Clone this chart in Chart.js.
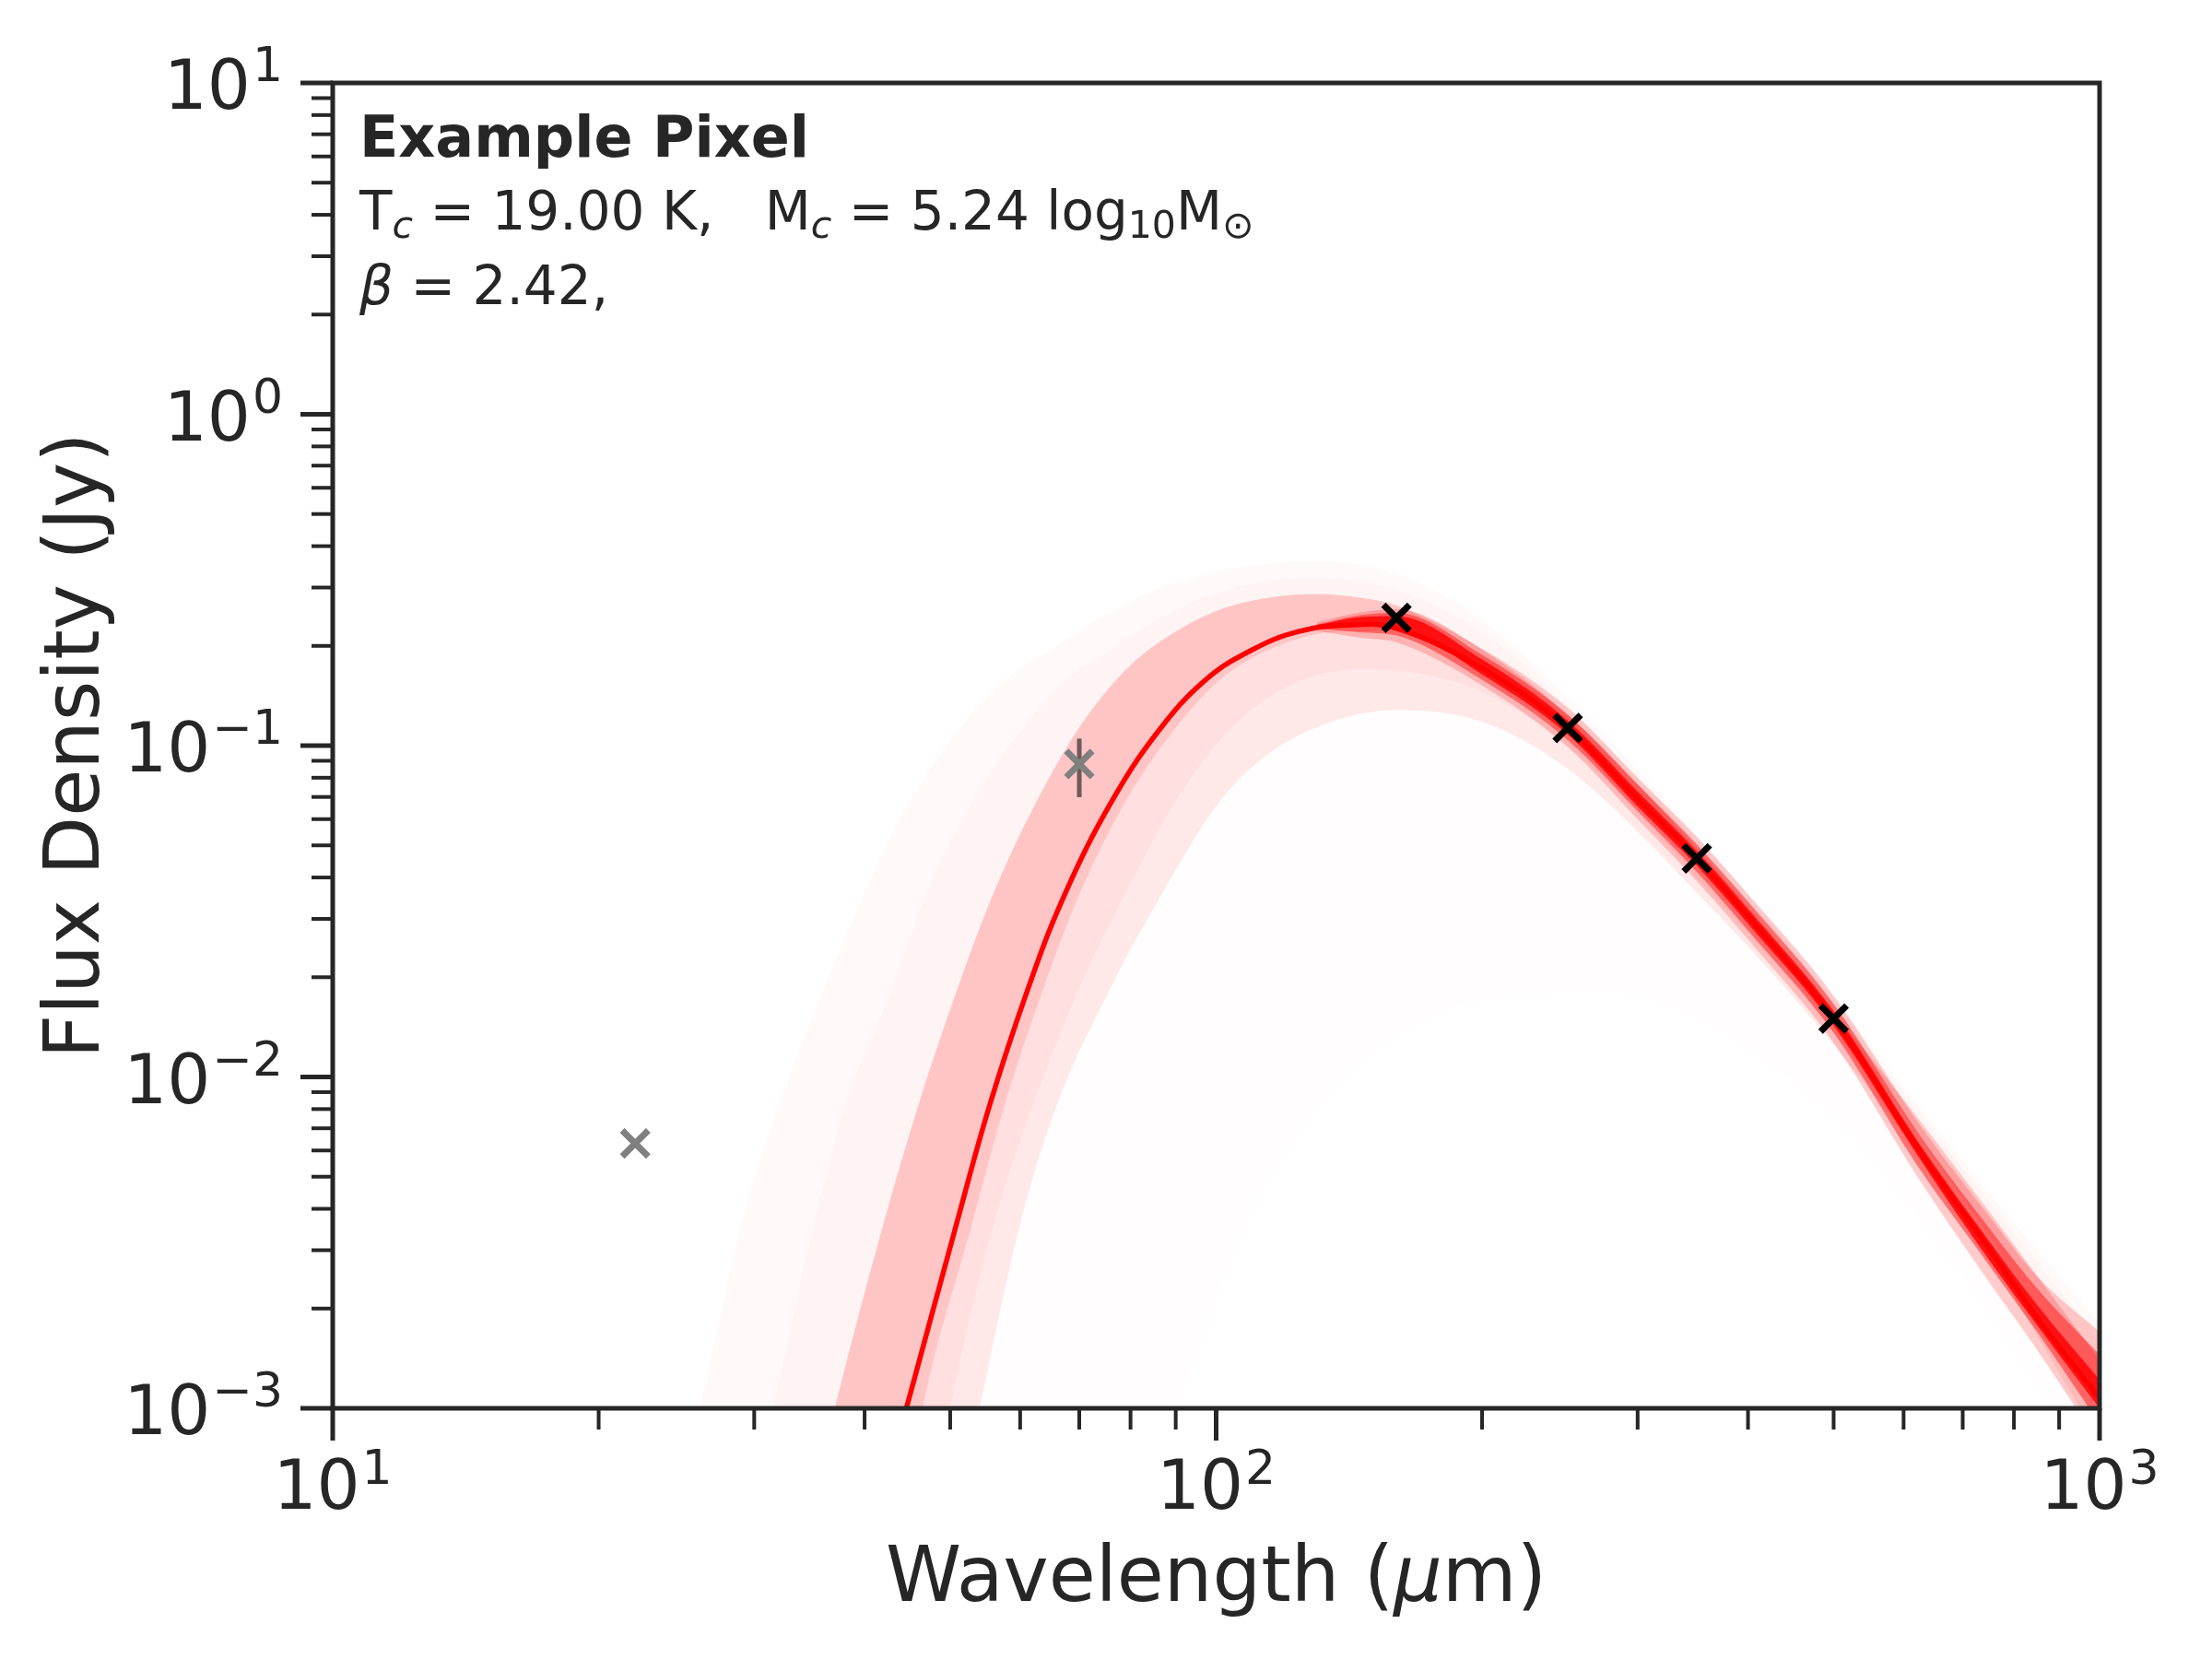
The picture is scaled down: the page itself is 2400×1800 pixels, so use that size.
<!DOCTYPE html>
<html>
<head>
<meta charset="utf-8">
<script src="https://cdn.jsdelivr.net/npm/chart.js@4.4.0/dist/chart.umd.min.js"></script>
<style>
  html, body { margin: 0; padding: 0; background: #fff; overflow: hidden; }
  canvas { display: block; }
</style>
</head>
<body>
<canvas id="sed" width="2400" height="1800" style="width:2400px;height:1800px"></canvas>
<script>
const INK = '#262626';
const FONT = '"DejaVu Sans", sans-serif';

// measured points (Jy)
const usedWave = [160, 250, 350, 500];
const usedFlux = [0.243, 0.113, 0.0457, 0.0150];
const skipWave = [22, 70];
const skipFlux = [0.0063, 0.088];
const errWave = [70, 70];
const errFlux = [0.0699, 0.105];

// best fit curve
const fitWave = [44.6, 50.9, 55.4, 61.3, 67.4, 76.2, 86.1, 97.3, 110, 124, 141, 160, 200, 250, 300, 350, 405, 500, 625, 752, 847, 1000];
const fitFlux = [0.0010, 0.00365, 0.0082, 0.0186, 0.0356, 0.068, 0.111, 0.158, 0.195, 0.221, 0.231, 0.226, 0.171, 0.113, 0.069, 0.0457, 0.0294, 0.0150, 0.0060, 0.0030, 0.0019, 0.00107];

// envelopes of the posterior sample curves
const haloUpWave = [20, 26, 29, 32, 36, 40, 45, 51, 58, 66, 75, 90, 110, 130, 160, 200, 250, 350, 500, 700, 1000];
const haloUpFlux = [1e-4, 0.001, 0.0036, 0.0082, 0.0186, 0.036, 0.068, 0.111, 0.16, 0.2, 0.25, 0.31, 0.35, 0.36, 0.33, 0.24, 0.14, 0.054, 0.0172, 0.0056, 0.0018];
const haloMidWave = [20, 31.5, 35, 38, 43, 47, 53, 60, 68, 77, 88, 105, 125, 150, 200, 250, 350, 500, 700, 1000];
const haloMidFlux = [1e-5, 0.001, 0.0036, 0.0082, 0.0186, 0.036, 0.068, 0.111, 0.16, 0.2, 0.25, 0.3, 0.32, 0.31, 0.22, 0.132, 0.051, 0.0165, 0.0053, 0.0016];
const lowArcWave = [20, 60, 90, 110, 140, 200, 280, 350, 500, 700, 1000];
const lowArcFlux = [1e-5, 1e-4, 0.001, 0.004, 0.01, 0.017, 0.018, 0.015, 0.0075, 0.0025, 0.0006];
const lightLoWave = [20, 45, 54, 60, 66, 76, 87, 101, 115, 135, 160, 200, 250, 350, 500, 700, 1000];
const lightLoFlux = [1e-6, 1e-4, 0.001, 0.0036, 0.0082, 0.0186, 0.036, 0.068, 0.095, 0.118, 0.128, 0.118, 0.085, 0.036, 0.0125, 0.0038, 0.0008];
const lightMidWave = [20, 43, 50, 56, 62, 70, 79, 90, 103, 120, 145, 170, 200, 250, 350, 500, 700, 1000];
const lightMidFlux = [1e-6, 1e-4, 0.001, 0.0036, 0.0082, 0.0186, 0.036, 0.068, 0.11, 0.15, 0.17, 0.165, 0.145, 0.1, 0.04, 0.0137, 0.0041, 0.0009];
const denseUpWave = [20, 30, 37, 42, 46, 51, 56, 63, 71, 80, 91, 103, 117, 130, 145, 160, 200, 250, 350, 500, 700, 1000];
const denseUpFlux = [1e-6, 1e-4, 0.001, 0.0036, 0.0082, 0.0186, 0.036, 0.07, 0.12, 0.175, 0.225, 0.262, 0.282, 0.287, 0.28, 0.265, 0.195, 0.124, 0.049, 0.0158, 0.005, 0.0014];
const denseLoWave = [20, 40, 46.5, 53, 57.6, 63.8, 70, 79, 89.5, 101, 114, 128, 145, 160, 200, 250, 350, 500, 700, 1000];
const denseLoFlux = [1e-6, 1e-4, 0.001, 0.00365, 0.0082, 0.0186, 0.0356, 0.068, 0.111, 0.158, 0.193, 0.215, 0.222, 0.222, 0.168, 0.111, 0.045, 0.0148, 0.0043, 0.00105];
const coreWave = [130, 145, 160, 200, 250, 300, 350, 400, 500, 625, 750, 850, 1000];
const coreSoftUp = [0.236, 0.252, 0.258, 0.196, 0.13, 0.08, 0.053, 0.0356, 0.0176, 0.0072, 0.0038, 0.0025, 0.0017];
const coreSoftLo = [0.222, 0.212, 0.205, 0.152, 0.099, 0.06, 0.039, 0.026, 0.0127, 0.0049, 0.0024, 0.0015, 0.00078];
const coreOuterUp = [0.232, 0.247, 0.252, 0.188, 0.124, 0.0763, 0.0503, 0.0338, 0.0166, 0.0067, 0.0035, 0.0023, 0.00145];
const coreOuterLo = [0.226, 0.22, 0.215, 0.158, 0.104, 0.0635, 0.0416, 0.0277, 0.0136, 0.0053, 0.0027, 0.0017, 0.0009];
const coreInnerUp = [0.231, 0.244, 0.246, 0.182, 0.119, 0.0727, 0.048, 0.0321, 0.0158, 0.0063, 0.0032, 0.00205, 0.00122];
const coreInnerLo = [0.229, 0.231, 0.228, 0.164, 0.108, 0.0655, 0.0434, 0.029, 0.0143, 0.0057, 0.0028, 0.00178, 0.001];

// axes
const xMajor = [10, 100, 1000];
const xExp = ['1', '2', '3'];
const xMinor = [20, 30, 40, 50, 60, 70, 80, 90, 200, 300, 400, 500, 600, 700, 800, 900];
const yMajor = [0.001, 0.01, 0.1, 1, 10];
const yExp = ['\u22123', '\u22122', '\u22121', '0', '1'];
const yMinor = [0.002, 0.003, 0.004, 0.005, 0.006, 0.007, 0.008, 0.009,
                0.02, 0.03, 0.04, 0.05, 0.06, 0.07, 0.08, 0.09,
                0.2, 0.3, 0.4, 0.5, 0.6, 0.7, 0.8, 0.9,
                2, 3, 4, 5, 6, 7, 8, 9];

const pts = (w, f) => w.map((v, i) => ({x: v, y: f[i]}));

function band(name, upW, upF, loW, loF, alpha) {
  return [
    {label: name + ' up', data: pts(upW, upF), fill: '+1', backgroundColor: 'rgba(255,0,0,' + alpha + ')',
     borderWidth: 0, borderColor: 'transparent', pointRadius: 0, cubicInterpolationMode: 'monotone', order: 10},
    {label: name + ' lo', data: pts(loW, loF), fill: false, backgroundColor: 'transparent',
     borderWidth: 0, borderColor: 'transparent', pointRadius: 0, cubicInterpolationMode: 'monotone', order: 10}
  ];
}

function rich(ctx, x, y, parts) {
  parts.forEach(p => {
    ctx.font = p[1];
    ctx.fillText(p[0], x, y + (p[2] || 0));
    x += ctx.measureText(p[0]).width;
  });
}

const axesPlugin = {
  id: 'axesPlugin',
  afterDraw(chart) {
    const {ctx, chartArea: a} = chart;
    const sx = chart.scales.x, sy = chart.scales.y;
    ctx.save();
    ctx.strokeStyle = INK;
    ctx.fillStyle = INK;
    ctx.lineCap = 'butt';
    const seg = (x1, y1, x2, y2, w) => {
      ctx.lineWidth = w;
      ctx.beginPath(); ctx.moveTo(x1, y1); ctx.lineTo(x2, y2); ctx.stroke();
    };
    xMajor.forEach(v => { const p = sx.getPixelForValue(v); seg(p, a.bottom, p, a.bottom + 35, 5); });
    xMinor.forEach(v => { const p = sx.getPixelForValue(v); seg(p, a.bottom, p, a.bottom + 23, 4); });
    yMajor.forEach(v => { const p = sy.getPixelForValue(v); seg(a.left - 35, p, a.left, p, 5); });
    yMinor.forEach(v => { const p = sy.getPixelForValue(v); seg(a.left - 23, p, a.left, p, 4); });
    ctx.lineWidth = 5;
    ctx.strokeRect(a.left, a.top, a.right - a.left, a.bottom - a.top);

    // tick labels
    const big = '74px ' + FONT, sup = '52px ' + FONT;
    ctx.textAlign = 'left';
    ctx.textBaseline = 'alphabetic';
    xMajor.forEach((v, i) => {
      const p = sx.getPixelForValue(v);
      ctx.font = big; const w1 = ctx.measureText('10').width;
      ctx.font = sup; const w2 = ctx.measureText(xExp[i]).width;
      const x0 = p - (w1 + 2 + w2) / 2;
      ctx.font = big; ctx.fillText('10', x0, a.bottom + 109);
      ctx.font = sup; ctx.fillText(xExp[i], x0 + w1 + 2, a.bottom + 82);
    });
    yMajor.forEach((v, i) => {
      const p = sy.getPixelForValue(v);
      const right = a.left - 54;
      ctx.font = sup; const w2 = ctx.measureText(yExp[i]).width;
      ctx.font = big; const w1 = ctx.measureText('10').width;
      ctx.fillText('10', right - w2 - 2 - w1, p + 28);
      ctx.font = sup; ctx.fillText(yExp[i], right - w2, p - 2);
    });

    // axis titles
    const title = '83px ' + FONT;
    const parts = [['Wavelength (', title], ['\u03bc', 'oblique ' + title], ['m)', title]];
    let tw = 0;
    parts.forEach(q => { ctx.font = q[1]; tw += ctx.measureText(q[0]).width; });
    rich(ctx, (a.left + a.right) / 2 - tw / 2, a.bottom + 209, parts);

    ctx.save();
    ctx.translate(107, (a.top + a.bottom) / 2);
    ctx.rotate(-Math.PI / 2);
    ctx.textAlign = 'center';
    ctx.font = title;
    ctx.fillText('Flux Density (Jy)', 0, 0);
    ctx.restore();

    // annotation
    const reg = '58px ' + FONT, sub = '41px ' + FONT, isub = 'oblique 41px ' + FONT;
    const tx = a.left + 29;
    ctx.textAlign = 'left';
    ctx.font = 'bold 62px ' + FONT;
    ctx.fillText('Example Pixel', tx, a.top + 80);
    rich(ctx, tx, a.top + 159, [
      ['T', reg], ['c', isub, 9], [' = 19.00 K,   M', reg], ['c', isub, 9],
      [' = 5.24 log', reg], ['10', sub, 9], ['M', reg], ['\u2299', sub, 9]
    ]);
    rich(ctx, tx, a.top + 240, [['\u03b2', 'oblique ' + reg], [' = 2.42,', reg]]);
    ctx.restore();
  }
};

const datasets = [
  {label: 'used', data: pts(usedWave, usedFlux), showLine: false, pointStyle: 'crossRot', pointRadius: 20,
   borderColor: '#000000', pointBorderWidth: 7, order: 0},
  {label: 'excluded', data: pts(skipWave, skipFlux), showLine: false, pointStyle: 'crossRot', pointRadius: 20,
   borderColor: '#808080', pointBorderWidth: 7, order: 0},
  {label: 'error', data: pts(errWave, errFlux), borderColor: '#6e5a5a', borderWidth: 5, pointRadius: 0, fill: false, order: 1},
  {label: 'fit', data: pts(fitWave, fitFlux), borderColor: '#ff0000', borderWidth: 5.5, pointRadius: 0,
   fill: false, tension: 0.4, order: 2},
  ...band('lowArc', haloUpWave, haloUpFlux, lowArcWave, lowArcFlux, 0.008),
  ...band('halo', haloUpWave, haloUpFlux, lightLoWave, lightLoFlux, 0.018),
  ...band('haloMid', haloMidWave, haloMidFlux, lightLoWave, lightLoFlux, 0.025),
  ...band('light', denseUpWave, denseUpFlux, lightLoWave, lightLoFlux, 0.05),
  ...band('lightMid', denseUpWave, denseUpFlux, lightMidWave, lightMidFlux, 0.04),
  ...band('dense', denseUpWave, denseUpFlux, denseLoWave, denseLoFlux, 0.12),
  ...band('coreSoft', coreWave, coreSoftUp, coreWave, coreSoftLo, 0.2),
  ...band('coreOuter', coreWave, coreOuterUp, coreWave, coreOuterLo, 0.45),
  ...band('coreInner', coreWave, coreInnerUp, coreWave, coreInnerLo, 0.85)
];

new Chart(document.getElementById('sed').getContext('2d'), {
  type: 'line',
  data: {datasets},
  options: {
    responsive: false,
    devicePixelRatio: 1,
    animation: false,
    events: [],
    layout: {padding: {left: 0, top: 90, right: 122, bottom: 0}},
    elements: {line: {capBezierPoints: false}},
    plugins: {legend: {display: false}, tooltip: {enabled: false}},
    scales: {
      x: {
        type: 'logarithmic', min: 10, max: 1000,
        ticks: {display: false}, grid: {display: false}, border: {display: false},
        afterFit(s) { s.height = 272; }
      },
      y: {
        type: 'logarithmic', min: 0.001, max: 10,
        ticks: {display: false}, grid: {display: false}, border: {display: false},
        afterFit(s) { s.width = 361; }
      }
    }
  },
  plugins: [axesPlugin]
});
</script>
</body>
</html>
